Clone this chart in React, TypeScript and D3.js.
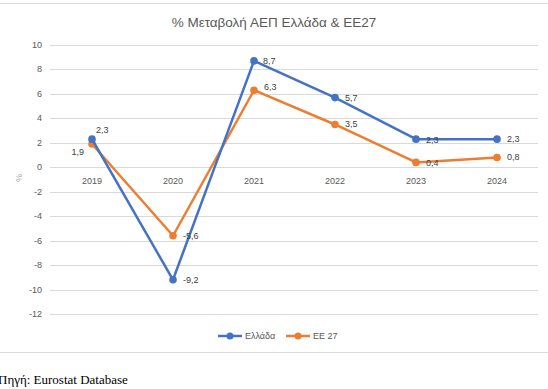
import React from "react";
import * as d3 from "d3";

const years = ["2019", "2020", "2021", "2022", "2023", "2024"];
const greece = [2.3, -9.2, 8.7, 5.7, 2.3, 2.3];
const eu27 = [1.9, -5.6, 6.3, 3.5, 0.4, 0.8];
const yTicks = [10, 8, 6, 4, 2, 0, -2, -4, -6, -8, -10, -12];
const seriesNames = ["Ελλάδα", "ΕΕ 27"];
const title = "% Μεταβολή ΑΕΠ Ελλάδα & ΕΕ27";
const source = "Πηγή: Eurostat Database";

const W = 548;
const H = 389;
const BLUE = "#4472C4";
const ORANGE = "#ED7D31";
const GRID = "#d9d9d9";
const TXT = "#595959";
const FONT = "'Liberation Sans', Arial, sans-serif";

const fmt = (v: number) => String(v).replace(".", ",");

export default function App() {
  const x = d3.scalePoint<string>().domain(years).range([92, 497]);
  const y = d3.scaleLinear().domain([-12, 10]).range([314, 45]);
  const line = d3
    .line<number>()
    .x((_, i) => x(years[i]) as number)
    .y((d) => y(d));

  // label offsets: [dx, dy, anchor]
  const gLab: [number, number, string][] = [
    [4, -6, "start"],
    [10, 3, "start"],
    [9, 3, "start"],
    [10, 3, "start"],
    [10, 4, "start"],
    [10, 3, "start"],
  ];
  const eLab: [number, number, string][] = [
    [-8, 11, "end"],
    [10, 3, "start"],
    [10, 0, "start"],
    [10, 3, "start"],
    [10, 4, "start"],
    [10, 3, "start"],
  ];

  const series = [
    { name: seriesNames[0], data: greece, color: BLUE, lab: gLab },
    { name: seriesNames[1], data: eu27, color: ORANGE, lab: eLab },
  ];

  return (
    <svg
      width={W}
      height={H}
      style={{ position: "absolute", left: 0, top: 0, background: "#fff" }}
    >
      <line x1={0} x2={W} y1={3.5} y2={3.5} stroke={GRID} strokeWidth={1} />
      <line x1={0} x2={W} y1={352.5} y2={352.5} stroke={GRID} strokeWidth={1} />
      <text
        x={274}
        y={27}
        textAnchor="middle"
        fontFamily={FONT}
        fontSize={13.5}
        fill={TXT}
      >
        {title}
      </text>
      {yTicks.map((t) => (
        <g key={t}>
          <line
            x1={50}
            x2={538}
            y1={Math.round(y(t)) + 0.5}
            y2={Math.round(y(t)) + 0.5}
            stroke={GRID}
            strokeWidth={1}
          />
          <text
            x={42}
            y={y(t) + 3}
            textAnchor="end"
            fontFamily={FONT}
            fontSize={9}
            fill={TXT}
          >
            {t}
          </text>
        </g>
      ))}
      <text
        transform={`translate(22,${178}) rotate(-90)`}
        textAnchor="middle"
        fontFamily={FONT}
        fontSize={9}
        fill="#a6a6a6"
      >
        %
      </text>
      {years.map((yr) => (
        <text
          key={yr}
          x={x(yr)}
          y={184}
          textAnchor="middle"
          fontFamily={FONT}
          fontSize={9}
          fill={TXT}
        >
          {yr}
        </text>
      ))}
      {series
        .slice()
        .reverse()
        .map((s) => (
          <g key={s.name}>
            <path
              d={line(s.data) || ""}
              fill="none"
              stroke={s.color}
              strokeWidth={2.5}
              strokeLinejoin="round"
            />
            {s.data.map((v, i) => (
              <circle
                key={i}
                cx={x(years[i])}
                cy={y(v)}
                r={3.8}
                fill={s.color}
              />
            ))}
          </g>
        ))}
      {series.map((s) =>
        s.data.map((v, i) => (
          <text
            key={s.name + i}
            x={(x(years[i]) as number) + s.lab[i][0]}
            y={y(v) + s.lab[i][1]}
            textAnchor={s.lab[i][2] as any}
            fontFamily={FONT}
            fontSize={9}
            fill="#404040"
          >
            {fmt(v)}
          </text>
        ))
      )}
      {series.map((s, i) => {
        const lx = i === 0 ? 218 : 286;
        return (
          <g key={"leg" + s.name}>
            <line
              x1={lx}
              x2={lx + 24}
              y1={336}
              y2={336}
              stroke={s.color}
              strokeWidth={2.5}
            />
            <circle cx={lx + 12} cy={336} r={3.5} fill={s.color} />
            <text
              x={lx + 27}
              y={339}
              fontFamily={FONT}
              fontSize={9}
              fill={TXT}
            >
              {s.name}
            </text>
          </g>
        );
      })}
      <text
        x={-2}
        y={384}
        fontFamily="'Liberation Serif', 'Times New Roman', serif"
        fontSize={13}
        fill="#000"
      >
        {source}
      </text>
    </svg>
  );
}
